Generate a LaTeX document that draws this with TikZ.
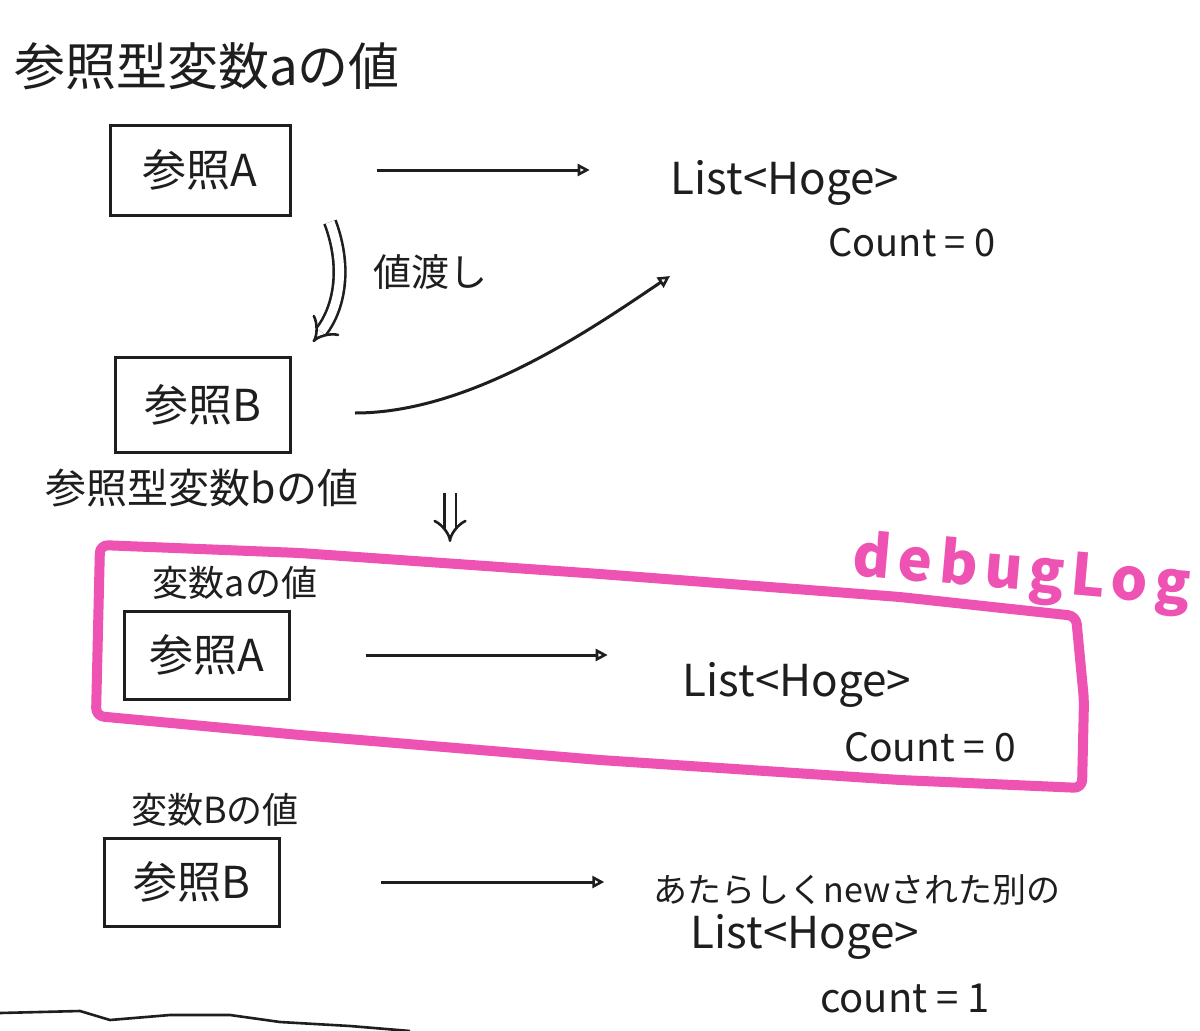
\documentclass[tikz,border=0pt]{standalone}
\usepackage{fontspec}
\setmainfont{Noto Sans CJK JP}
\usetikzlibrary{arrows.meta}
\definecolor{marker}{RGB}{238,82,178}
\definecolor{pen}{RGB}{30,30,30}
\begin{document}
\begin{tikzpicture}[x=1pt,y=-1pt,
  ink/.style={line width=3pt, draw=pen},
  refbox/.style={draw=pen, line width=3pt, inner sep=0pt, text=pen, font=\fontsize{44}{48}\selectfont},
  lbl/.style={text=pen, inner sep=0pt},
  arr/.style={ink, -{Triangle[open,length=12pt,width=12pt,line width=2.6pt]}},
  dbl/.style={draw=pen, double=white, double distance=9pt, line width=2.6pt, -{Implies[length=12pt]}},
  pinkline/.style={draw=marker, line width=10pt, line join=round, line cap=round, rounded corners=8pt}
]
\useasboundingbox (0,0) rectangle (1200,1031);
\fill[white] (0,0) rectangle (1200,1031);

% --- top part ---
\node[lbl, font=\fontsize{51}{54}\selectfont] (titleA) at (207,66) {参照型変数aの値};
\node[refbox, minimum width=180pt, minimum height=90pt] (boxA) at (200,170) {参照A};
\node[lbl, font=\fontsize{44}{48}\selectfont] (listA) at (785,183) {List<Hoge>};
\node[lbl, font=\fontsize{38}{42}\selectfont] (countA) at (912,243) {Count = 0};
\draw[arr, shorten <=85pt, shorten >=81pt] (boxA.east) -- (listA.west |- boxA.east);

\coordinate (passS) at (330,222);
\coordinate (passE) at (313,342);
\draw[dbl] (passS) .. controls (348,270) and (338,310) .. (passE);
\node[lbl, font=\fontsize{38}{42}\selectfont] (pass) at (430,272) {値渡し};

\node[refbox, minimum width=175pt, minimum height=95pt] (boxB) at (203,405) {参照B};
\coordinate (bStart) at (355,413);
\coordinate (bEnd) at (670,276);
\draw[arr] (bStart) .. controls (470,413) and (590,330) .. (bEnd);
\node[lbl, font=\fontsize{41}{45}\selectfont] (titleB) at (202,488) {参照型変数bの値};

% --- transition arrow ---
\coordinate (thenS) at (450,493);
\coordinate (thenE) at (450,542);
\draw[dbl] (thenS) -- (thenE);

% --- debug log frame ---
\draw[pinkline] (100,545) -- (300,553) -- (600,574) -- (900,597) -- (1076,616)
  -- (1084,700) -- (1082,788) -- (900,780) -- (600,760) -- (300,735) -- (96,716) -- cycle;
\node[text=marker, font=\fontsize{58}{62}\selectfont\bfseries\addfontfeatures{LetterSpace=12}, rotate=-5, inner sep=0pt] (dlog) at (1022,574) {debug\hspace{6pt}Log};

\node[lbl, font=\fontsize{36}{40}\selectfont] (varA) at (235,583) {変数aの値};
\node[refbox, minimum width=165pt, minimum height=88pt] (boxA2) at (207,655) {参照A};
\node[lbl, font=\fontsize{44}{48}\selectfont] (listA2) at (797,685) {List<Hoge>};
\node[lbl, font=\fontsize{39}{43}\selectfont] (countA2) at (930,747) {Count = 0};
\draw[arr, shorten <=75pt, shorten >=75pt] (boxA2.east) -- (listA2.west |- boxA2.east);

% --- bottom part ---
\node[lbl, font=\fontsize{36}{40}\selectfont] (varB) at (215,810) {変数Bの値};
\node[refbox, minimum width=175pt, minimum height=88pt] (boxB2) at (192,882) {参照B};
\node[lbl, font=\fontsize{34}{38}\selectfont] (newL) at (857,890) {あたらしくnewされた別の};
\node[lbl, font=\fontsize{44}{48}\selectfont] (listB2) at (805,937) {List<Hoge>};
\node[lbl, font=\fontsize{40}{44}\selectfont] (countB2) at (905,998) {count = 1};
\draw[arr, shorten <=100pt, shorten >=49pt] (boxB2.east) -- (newL.west |- boxB2.east);

% --- torn edge line ---
\draw[ink, line width=2.6pt] (0,1013) -- (80,1011) -- (110,1020) -- (170,1015) -- (230,1015) -- (280,1022) -- (350,1026) -- (410,1031);
\end{tikzpicture}
\end{document}
